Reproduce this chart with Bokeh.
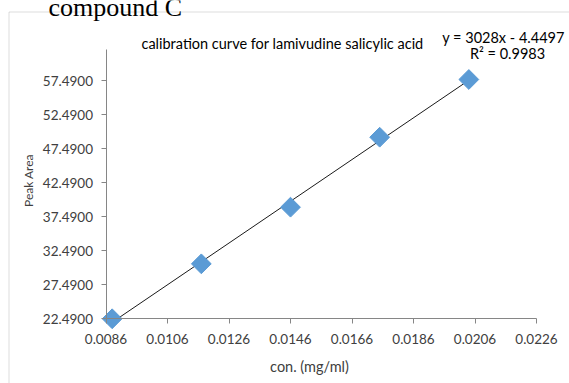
import numpy as np
from bokeh.plotting import figure
from bokeh.models import Range1d, FixedTicker, PrintfTickFormatter, Label, BoxAnnotation
from bokeh.embed import file_html
from bokeh.resources import INLINE

# ---- data ----
conc = [0.0088, 0.0117, 0.0146, 0.0175, 0.0204]          # con. (mg/ml)
peak_area = [22.45, 30.53, 38.86, 49.15, 57.64]          # Peak Area
x_ticks = [0.0086, 0.0106, 0.0126, 0.0146, 0.0166, 0.0186, 0.0206, 0.0226]
y_ticks = [22.49, 27.49, 32.49, 37.49, 42.49, 47.49, 52.49, 57.49]
y_axis_max = 62.05
title_text = "calibration curve for lamivudine salicylic acid"
eq_text = "y = 3028x - 4.4497"
r2_text = "R\u00b2 = 0.9983"
x_title = "con. (mg/ml)"
y_title = "Peak Area"
header_text = "compound C"

FONT = "Lato"
AXIS_GREY = "#868686"
TEXT_COL = "#404040"
BLUE = "#5B9BD5"

W, H = 569, 383
# plot-area placement inside the canvas (pixels)
left_px, right_px, top_px, bottom_px = 105.5, 536.0, 49.0, 318.0
x_lo, x_hi = x_ticks[0], x_ticks[-1]
y_lo, y_hi = y_ticks[0], y_axis_max
xs = (right_px - left_px) / (x_hi - x_lo)
ys = (bottom_px - top_px) / (y_hi - y_lo)
x_range = Range1d(x_lo - left_px / xs, x_hi + (W - right_px) / xs)
y_range = Range1d(y_lo - (H - bottom_px) / ys, y_hi + top_px / ys)

p = figure(width=W, height=H, output_backend="svg", toolbar_location=None,
           x_range=x_range, y_range=y_range)
p.min_border = 0
p.min_border_left = 0
p.min_border_right = 0
p.min_border_top = 0
p.min_border_bottom = 0
p.xgrid.visible = False
p.ygrid.visible = False
p.outline_line_color = None
p.background_fill_color = "white"
p.border_fill_color = "white"

for ax in (p.xaxis[0], p.yaxis[0]):
    ax.axis_line_color = AXIS_GREY
    ax.major_tick_line_color = AXIS_GREY
    ax.minor_tick_line_color = None
    ax.major_tick_in = 0
    ax.major_tick_out = 5
    ax.major_label_text_font = FONT
    ax.major_label_text_font_size = "13.5px"
    ax.major_label_text_color = TEXT_COL

p.xaxis.fixed_location = y_lo
p.yaxis.fixed_location = x_lo
p.xaxis.bounds = (x_lo, x_hi)
p.yaxis.bounds = (y_lo, y_hi)
p.xaxis.ticker = FixedTicker(ticks=x_ticks)
p.yaxis.ticker = FixedTicker(ticks=y_ticks)
p.xaxis.formatter = PrintfTickFormatter(format="%.4f")
p.yaxis.formatter = PrintfTickFormatter(format="%.4f")
p.xaxis.major_label_standoff = 10
p.yaxis.major_label_standoff = 8

# linear trendline from least squares fit of the data
slope, intercept = np.polyfit(conc, peak_area, 1)
tx = [min(conc), max(conc)]
ty = [slope * v + intercept for v in tx]
p.line(tx, ty, line_color="#1a1a1a", line_width=1)

p.scatter(conc, peak_area, marker="square", angle=np.pi / 4, size=14,
          fill_color=BLUE, line_color=BLUE)

# chart border (Excel chart area)
p.add_layout(BoxAnnotation(left=8.5, right=620, top=H - 11.5, bottom=-50,
                           left_units="screen", right_units="screen",
                           top_units="screen", bottom_units="screen",
                           fill_color=None, line_color="#8c8c8c", line_width=1))

def add_text(x, y, text, size, align="center", font=FONT, color="#000000",
             baseline="middle", angle=0.0):
    p.add_layout(Label(x=x, y=H - y, x_units="screen", y_units="screen", text=text,
                       text_font=font, text_font_size=size, text_color=color,
                       text_align=align, text_baseline=baseline, angle=angle))

add_text(48, 7, header_text, "26px", align="left", font="Liberation Serif", baseline="alphabetic")
add_text(282, 43, title_text, "14.5px")
add_text(503, 37, eq_text, "14.5px")
add_text(507, 53, r2_text, "14.5px")
add_text(309, 366, x_title, "14.5px", color=TEXT_COL)
add_text(28, 180, y_title, "12px", color=TEXT_COL, angle=np.pi / 2)

open("out.html", "w").write(file_html(p, INLINE))
